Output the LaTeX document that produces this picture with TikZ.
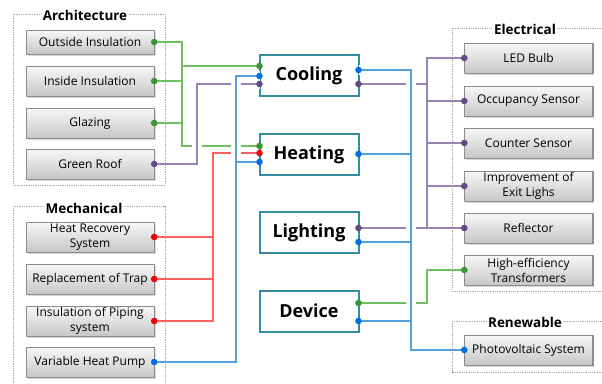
\documentclass[tikz,border=0pt]{standalone}
\usepackage{fontspec}
\setmainfont{Open Sans}
\usepackage{tikz}
\usetikzlibrary{shadows}

\definecolor{grnLine}{RGB}{112,192,96}
\definecolor{grnDot}{RGB}{56,150,50}
\definecolor{purLine}{RGB}{150,130,180}
\definecolor{purDot}{RGB}{102,72,130}
\definecolor{bluLine}{RGB}{84,160,220}
\definecolor{bluDot}{RGB}{0,112,220}
\definecolor{redLine}{RGB}{255,96,96}
\definecolor{redDot}{RGB}{240,0,0}
\definecolor{useBorder}{RGB}{52,140,160}

\tikzset{
  item/.style={draw=black!45, top color=black!3, bottom color=black!22,
    drop shadow={shadow xshift=1.5pt, shadow yshift=-1.5pt, opacity=0.3},
    minimum width=128pt, minimum height=30pt, inner sep=1pt, align=center,
    font=\fontsize{12}{15}\selectfont},
  enduse/.style={draw=useBorder, line width=2pt, fill=white,
    minimum width=99pt, minimum height=41pt, font=\fontsize{18}{20}\selectfont\bfseries},
  group/.style={draw=black!35, densely dotted, line width=0.8pt},
  grouptitle/.style={fill=white, inner sep=1pt, font=\fontsize{13.5}{15}\selectfont\bfseries},
  wire/.style={line width=1.1pt},
  hop/.style={preaction={draw=white, line width=10pt}},
}

\begin{document}
\begin{tikzpicture}[x=1pt, y=-1pt]
			\useasboundingbox (0,0) rectangle (602,383);
			% Nodes:
			\node[enduse](cool) at (309,75.5){Cooling};
			\node[enduse](heat) at (309,154.5){Heating};
			\node[enduse](light) at (309,232.5){Lighting};
			\node[enduse](dev) at (309,311){Device};
			\node[item, minimum height=24pt](outins) at (90,42){Outside Insulation};
			\node[item](inins) at (90,81){Inside Insulation};
			\node[item](glaz) at (90,123){Glazing};
			\node[item](roof) at (90,164){Green Roof};
			\node[item](heatrec) at (90,237){Heat Recovery\\System};
			\node[item](trap) at (90,279){Replacement of Trap};
			\node[item](piping) at (90,321){Insulation of Piping\\system};
			\node[item](vhp) at (90,362){Variable Heat Pump};
			\node[item](led) at (528.5,58){LED Bulb};
			\node[item](occ) at (528.5,101){Occupancy Sensor};
			\node[item](cnt) at (528.5,143){Counter Sensor};
			\node[item](exit) at (528.5,186){Improvement of\\Exit Lighs};
			\node[item](refl) at (528.5,228){Reflector};
			\node[item](hit) at (528.5,270){High-efficiency\\Transformers};
			\node[item](pv) at (528.5,350){Photovoltaic System};
			% Pins on the end use boxes:
			\coordinate (coolG) at (259.5,66);
			\coordinate (coolB) at (259.5,76);
			\coordinate (coolP) at (259.5,84);
			\coordinate (coolBr) at (358.5,70);
			\coordinate (coolPr) at (358.5,84);
			\coordinate (heatG) at (259.5,146);
			\coordinate (heatR) at (259.5,153);
			\coordinate (heatB) at (259.5,162);
			\coordinate (heatBr) at (358.5,154);
			\coordinate (lightPr) at (358.5,228);
			\coordinate (lightBr) at (358.5,242);
			\coordinate (devGr) at (358.5,303);
			\coordinate (devBr) at (358.5,321);
			% Wires, left side:
			\draw[wire, grnLine] (outins.east) -| (182,146) -- (heatG);
			\draw[wire, grnLine] (182,66) -- (coolG);
			\draw[wire, grnLine] (inins.east) -- (182,81);
			\draw[wire, grnLine] (glaz.east) -- (182,123);
			\draw[wire, purLine, hop] (roof.east) -| (197,84) -- (coolP);
			\draw[wire, redLine] (heatrec.east) -| (213,153) -- (heatR);
			\draw[wire, redLine] (trap.east) -- (213,279);
			\draw[wire, redLine] (piping.east) -| (213,237);
			\draw[wire, bluLine, hop] (vhp.east) -| (236,76) -- (coolB);
			\draw[wire, bluLine] (236,162) -- (heatB);
			% Wires, right side:
			\draw[wire, purLine] (coolPr) -- (427,84);
			\draw[wire, purLine] (led.west) -- (427,58) -- (427,228);
			\draw[wire, purLine] (occ.west) -- (427,101);
			\draw[wire, purLine] (cnt.west) -- (427,143);
			\draw[wire, purLine] (exit.west) -- (427,186);
			\draw[wire, purLine] (lightPr) -- (refl.west);
			\draw[wire, grnLine] (devGr) -| (427,270) -- (hit.west);
			\draw[wire, bluLine, hop] (coolBr) -| (411,350) -- (pv.west);
			\draw[wire, bluLine] (heatBr) -- (411,154);
			\draw[wire, bluLine] (lightBr) -- (411,242);
			\draw[wire, bluLine] (devBr) -- (411,321);
			% Groups:
			\draw[group] (13,14) rectangle (165,185);
			\draw[group] (13,206) rectangle (165,392);
			\draw[group] (452,28) rectangle (612,291);
			\draw[group] (452,321) rectangle (612,372);
			\node[grouptitle](tArch) at (85,15){Architecture};
			\node[grouptitle](tMech) at (84,208){Mechanical};
			\node[grouptitle](tElec) at (525,29){Electrical};
			\node[grouptitle](tRen) at (525,322){Renewable};
			% redraw boxes over the frames
			\foreach \n in {outins,inins,glaz,roof,heatrec,trap,piping,vhp,led,occ,cnt,exit,refl,hit,pv}
				\draw[black!45] (\n.south west) rectangle (\n.north east);
			% Dots:
			\foreach \p in {outins.east,inins.east,glaz.east,coolG,heatG,devGr,hit.west}
				\fill[grnDot] (\p) circle (3.3);
			\foreach \p in {roof.east,coolP,coolPr,lightPr,led.west,occ.west,cnt.west,exit.west,refl.west}
				\fill[purDot] (\p) circle (3.3);
			\foreach \p in {heatrec.east,trap.east,piping.east,heatR}
				\fill[redDot] (\p) circle (3.3);
			\foreach \p in {vhp.east,coolB,heatB,coolBr,heatBr,lightBr,devBr,pv.west}
				\fill[bluDot] (\p) circle (3.3);
		\end{tikzpicture}
\end{document}
